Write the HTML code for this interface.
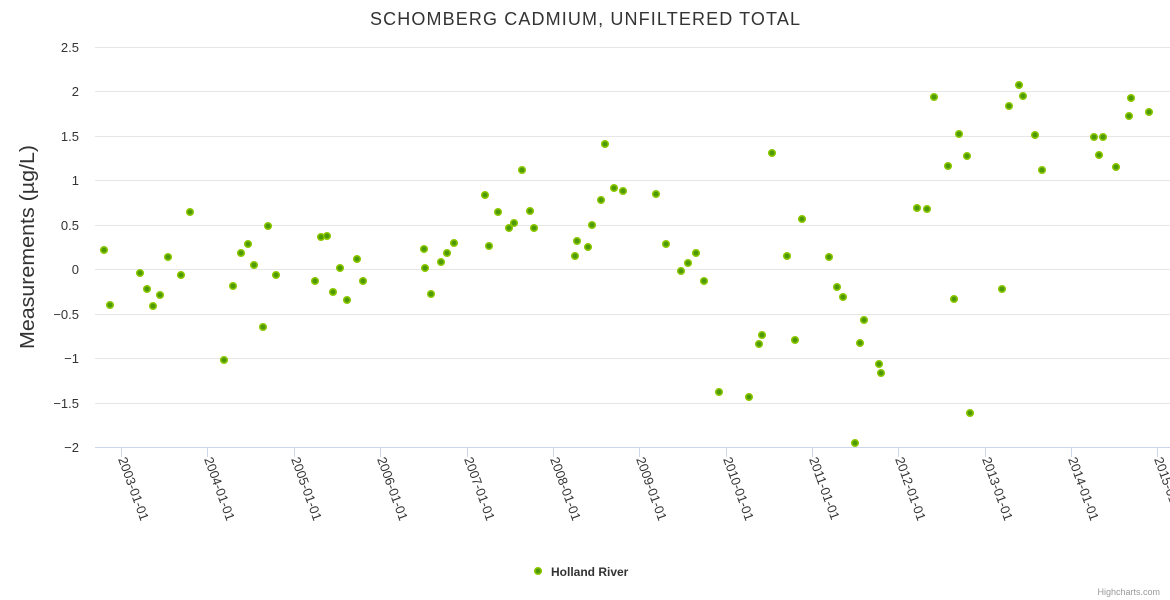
<!DOCTYPE html>
<html><head><meta charset="utf-8"><style>
html,body{margin:0;padding:0;background:#fff;}
svg{display:block;font-family:"Liberation Sans","DejaVu Sans",sans-serif;}
</style></head><body>
<svg width="1170" height="600" xmlns="http://www.w3.org/2000/svg">
<text x="585" y="25" text-anchor="middle" font-size="18" fill="#333" textLength="430" lengthAdjust="spacing">SCHOMBERG CADMIUM, UNFILTERED TOTAL</text>
<g stroke="#e6e6e6" stroke-width="1">
<line x1="95" x2="1170" y1="47.5" y2="47.5"/><line x1="95" x2="1170" y1="91.5" y2="91.5"/>
<line x1="95" x2="1170" y1="136.5" y2="136.5"/><line x1="95" x2="1170" y1="180.5" y2="180.5"/>
<line x1="95" x2="1170" y1="225.5" y2="225.5"/><line x1="95" x2="1170" y1="269.5" y2="269.5"/>
<line x1="95" x2="1170" y1="314.5" y2="314.5"/><line x1="95" x2="1170" y1="358.5" y2="358.5"/>
<line x1="95" x2="1170" y1="403.5" y2="403.5"/>
</g>
<line x1="95" x2="1170" y1="447.5" y2="447.5" stroke="#ccd6eb"/>
<g font-size="13" fill="#333" text-anchor="end">
<text x="79" y="52">2.5</text><text x="79" y="96">2</text><text x="79" y="141">1.5</text>
<text x="79" y="185">1</text><text x="79" y="230">0.5</text><text x="79" y="274">0</text>
<text x="79" y="319">−0.5</text><text x="79" y="363">−1</text><text x="79" y="408">−1.5</text>
<text x="79" y="452">−2</text>
</g>
<text transform="translate(34,247) rotate(-90)" text-anchor="middle" font-size="20" fill="#333" textLength="204" lengthAdjust="spacingAndGlyphs">Measurements (µg/L)</text>
<g stroke="#ccd6eb">
<line x1="121.5" x2="121.5" y1="447" y2="457"/><line x1="207.5" x2="207.5" y1="447" y2="457"/>
<line x1="294.5" x2="294.5" y1="447" y2="457"/><line x1="380.5" x2="380.5" y1="447" y2="457"/>
<line x1="467.5" x2="467.5" y1="447" y2="457"/><line x1="553.5" x2="553.5" y1="447" y2="457"/>
<line x1="639.5" x2="639.5" y1="447" y2="457"/><line x1="726.5" x2="726.5" y1="447" y2="457"/>
<line x1="812.5" x2="812.5" y1="447" y2="457"/><line x1="898.5" x2="898.5" y1="447" y2="457"/>
<line x1="985.5" x2="985.5" y1="447" y2="457"/><line x1="1071.5" x2="1071.5" y1="447" y2="457"/>
<line x1="1157.5" x2="1157.5" y1="447" y2="457"/>
</g>
<g font-size="13" fill="#333">
<text transform="translate(118,459) rotate(70)">2003-01-01</text>
<text transform="translate(204,459) rotate(70)">2004-01-01</text>
<text transform="translate(291,459) rotate(70)">2005-01-01</text>
<text transform="translate(377,459) rotate(70)">2006-01-01</text>
<text transform="translate(464,459) rotate(70)">2007-01-01</text>
<text transform="translate(550,459) rotate(70)">2008-01-01</text>
<text transform="translate(636,459) rotate(70)">2009-01-01</text>
<text transform="translate(723,459) rotate(70)">2010-01-01</text>
<text transform="translate(809,459) rotate(70)">2011-01-01</text>
<text transform="translate(895,459) rotate(70)">2012-01-01</text>
<text transform="translate(982,459) rotate(70)">2013-01-01</text>
<text transform="translate(1068,459) rotate(70)">2014-01-01</text>
<text transform="translate(1154,459) rotate(70)">2015-01-01</text>
</g>
<g fill="#4e9a06" stroke="#8cc800" stroke-width="1.5">
<circle cx="104" cy="250" r="3.3"/><circle cx="110" cy="305" r="3.3"/><circle cx="140" cy="273" r="3.3"/><circle cx="147" cy="289" r="3.3"/><circle cx="153" cy="306" r="3.3"/><circle cx="160" cy="295" r="3.3"/><circle cx="168" cy="257" r="3.3"/><circle cx="181" cy="275" r="3.3"/><circle cx="190" cy="212" r="3.3"/><circle cx="224" cy="360" r="3.3"/><circle cx="233" cy="286" r="3.3"/><circle cx="241" cy="253" r="3.3"/><circle cx="248" cy="244" r="3.3"/><circle cx="254" cy="265" r="3.3"/><circle cx="263" cy="327" r="3.3"/><circle cx="268" cy="226" r="3.3"/><circle cx="276" cy="275" r="3.3"/><circle cx="315" cy="281" r="3.3"/><circle cx="321" cy="237" r="3.3"/><circle cx="327" cy="236" r="3.3"/><circle cx="333" cy="292" r="3.3"/><circle cx="340" cy="268" r="3.3"/><circle cx="347" cy="300" r="3.3"/><circle cx="357" cy="259" r="3.3"/><circle cx="363" cy="281" r="3.3"/><circle cx="424" cy="249" r="3.3"/><circle cx="425" cy="268" r="3.3"/><circle cx="431" cy="294" r="3.3"/><circle cx="441" cy="262" r="3.3"/><circle cx="447" cy="253" r="3.3"/><circle cx="454" cy="243" r="3.3"/><circle cx="485" cy="195" r="3.3"/><circle cx="489" cy="246" r="3.3"/><circle cx="498" cy="212" r="3.3"/><circle cx="509" cy="228" r="3.3"/><circle cx="514" cy="223" r="3.3"/><circle cx="522" cy="170" r="3.3"/><circle cx="530" cy="211" r="3.3"/><circle cx="534" cy="228" r="3.3"/><circle cx="575" cy="256" r="3.3"/><circle cx="577" cy="241" r="3.3"/><circle cx="588" cy="247" r="3.3"/><circle cx="592" cy="225" r="3.3"/><circle cx="601" cy="200" r="3.3"/><circle cx="605" cy="144" r="3.3"/><circle cx="614" cy="188" r="3.3"/><circle cx="623" cy="191" r="3.3"/><circle cx="656" cy="194" r="3.3"/><circle cx="666" cy="244" r="3.3"/><circle cx="681" cy="271" r="3.3"/><circle cx="688" cy="263" r="3.3"/><circle cx="696" cy="253" r="3.3"/><circle cx="704" cy="281" r="3.3"/><circle cx="719" cy="392" r="3.3"/><circle cx="749" cy="397" r="3.3"/><circle cx="759" cy="344" r="3.3"/><circle cx="762" cy="335" r="3.3"/><circle cx="772" cy="153" r="3.3"/><circle cx="787" cy="256" r="3.3"/><circle cx="795" cy="340" r="3.3"/><circle cx="802" cy="219" r="3.3"/><circle cx="829" cy="257" r="3.3"/><circle cx="837" cy="287" r="3.3"/><circle cx="843" cy="297" r="3.3"/><circle cx="855" cy="443" r="3.3"/><circle cx="860" cy="343" r="3.3"/><circle cx="864" cy="320" r="3.3"/><circle cx="879" cy="364" r="3.3"/><circle cx="881" cy="373" r="3.3"/><circle cx="917" cy="208" r="3.3"/><circle cx="927" cy="209" r="3.3"/><circle cx="934" cy="97" r="3.3"/><circle cx="948" cy="166" r="3.3"/><circle cx="954" cy="299" r="3.3"/><circle cx="959" cy="134" r="3.3"/><circle cx="967" cy="156" r="3.3"/><circle cx="970" cy="413" r="3.3"/><circle cx="1002" cy="289" r="3.3"/><circle cx="1009" cy="106" r="3.3"/><circle cx="1019" cy="85" r="3.3"/><circle cx="1023" cy="96" r="3.3"/><circle cx="1035" cy="135" r="3.3"/><circle cx="1042" cy="170" r="3.3"/><circle cx="1094" cy="137" r="3.3"/><circle cx="1099" cy="155" r="3.3"/><circle cx="1103" cy="137" r="3.3"/><circle cx="1116" cy="167" r="3.3"/><circle cx="1129" cy="116" r="3.3"/><circle cx="1131" cy="98" r="3.3"/><circle cx="1149" cy="112" r="3.3"/>
<circle cx="538" cy="571" r="3.3"/>
</g>
<text x="551" y="576" font-size="12" font-weight="bold" fill="#333">Holland River</text>
<text x="1160" y="595" text-anchor="end" font-size="9" fill="#999">Highcharts.com</text>
</svg>
</body></html>
